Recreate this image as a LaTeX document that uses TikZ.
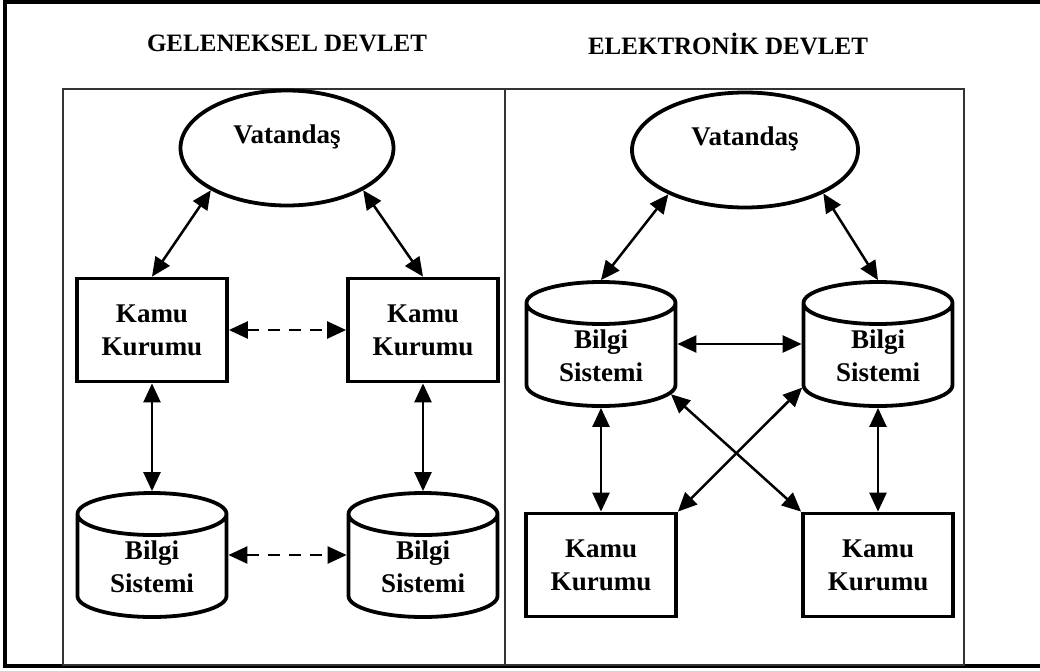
\documentclass[tikz,border=0pt]{standalone}
\usepackage{fontspec}
\setmainfont{Liberation Serif}
\usetikzlibrary{shapes.geometric}
\usetikzlibrary{arrows.meta}
\tikzset{
>={Triangle[length=19pt,width=17pt]},
bold line/.style={line width=3.8pt},
baglanti/.style={<->, line width=2.5pt},
kesik/.style={dash pattern=on 12pt off 9pt},
yazi/.style={font=\bfseries\fontsize{27}{33}\selectfont, align=center},
baslik/.style={font=\bfseries\fontsize{25}{30}\selectfont, inner sep=0pt},
vatandas/.style={draw, ellipse, bold line, yazi, inner sep=0pt,
	minimum width=213pt, minimum height=115pt, text height=19pt, text depth=29pt},
kurum/.style={draw, rectangle, bold line, yazi, inner sep=0pt,
	minimum width=150pt, minimum height=103pt},
bilgi/.style={draw, cylinder, shape border rotate=90, aspect=0.5, bold line, yazi,
	inner sep=0pt, minimum width=149pt, minimum height=124pt, anchor=shape center},
panel/.style={line width=1.4pt, black!80},
}

\begin{document}
\begin{tikzpicture}[x=1pt, y=-1pt]
\useasboundingbox (0,0) rectangle (1040,670);
%Frames
\draw[bold line] (1045,2) -- (5,2) -- (5,666) -- (1045,666);
\draw[panel] (63,89) rectangle (964,665);
\draw[panel] (505,89) -- (505,665);

%Titles
\node[baslik] (t1) at (287,43) {GELENEKSEL DEVLET};
\node[baslik] (t2) at (728,44) {ELEKTRONİK DEVLET};

%Place the nodes (left)
\node[vatandas] (v1) at (287,148) {Vatandaş};
\node[kurum] (k1) at (152,330) {Kamu\\Kurumu};
\node[kurum] (k2) at (423,330) {Kamu\\Kurumu};
\node[bilgi] (b1) at (152,555) {Bilgi\\Sistemi};
\node[bilgi] (b2) at (423,555) {Bilgi\\Sistemi};

%Place the nodes (right)
\node[vatandas, minimum width=226pt] (v2) at (745,150) {Vatandaş};
\node[bilgi] (b3) at (601,344) {Bilgi\\Sistemi};
\node[bilgi] (b4) at (878,344) {Bilgi\\Sistemi};
\node[kurum] (k3) at (601,565) {Kamu\\Kurumu};
\node[kurum] (k4) at (878,565) {Kamu\\Kurumu};

%
\draw[baglanti] (v1.209) -- (k1.north);
\draw[baglanti] (v1.-29) -- (k2.north);
\draw[baglanti, kesik] (k1.east) -- (k2.west);
\draw[baglanti] (k1.south) -- (b1.top);
\draw[baglanti] (k2.south) -- (b2.top);
\draw[baglanti, kesik] (b1.0 |- b1.shape center) -- (b2.180 |- b2.shape center);

%
\draw[baglanti] (v2.210) -- (b3.top);
\draw[baglanti] (v2.-29) -- (b4.top);
\draw[baglanti] (b3.0 |- b3.shape center) -- (b4.180 |- b4.shape center);
\draw[baglanti] (b3.bottom) -- (k3.north);
\draw[baglanti] (b4.bottom) -- (k4.north);
\draw[baglanti] (b3.-29) -- (k4.north west);
\draw[baglanti] (b4.203) -- (k3.north east);

\end{tikzpicture}
\end{document}
